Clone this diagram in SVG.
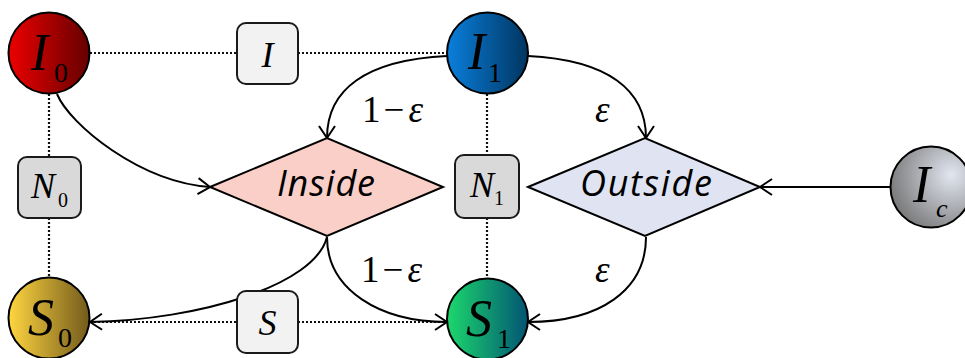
<svg xmlns="http://www.w3.org/2000/svg" width="965" height="358" viewBox="0 0 965 358">
<style>
.dot{stroke:#111;stroke-width:2.2;stroke-dasharray:2,2;fill:none}
.edge{stroke:#000;stroke-width:2;fill:none}
.circ{stroke:#000;stroke-width:2}
.box{stroke:#1a1a1a;stroke-width:2}
.math{font-family:"Liberation Serif","Times New Roman",serif;fill:#000}
.it{font-style:italic}
.hand{font-family:"Open Sans","DejaVu Sans",sans-serif;font-style:italic;fill:#000}
</style>
<defs>
<marker id="arr" markerUnits="userSpaceOnUse" markerWidth="30" markerHeight="30" refX="0" refY="0" viewBox="-15 -15 30 30" orient="auto" overflow="visible">
<path d="M-12,-8 L0,0 L-12,8" fill="none" stroke="#000" stroke-width="2"/>
</marker>
<linearGradient id="gI0" x1="0" y1="0" x2="1" y2="0"><stop offset="0" stop-color="#ec0000"/><stop offset="1" stop-color="#650000"/></linearGradient>
<linearGradient id="gI1" x1="0" y1="0" x2="1" y2="0"><stop offset="0" stop-color="#0a7fdc"/><stop offset="1" stop-color="#003560"/></linearGradient>
<linearGradient id="gS0" x1="0" y1="0" x2="1" y2="0"><stop offset="0" stop-color="#ffd640"/><stop offset="1" stop-color="#735a1c"/></linearGradient>
<linearGradient id="gS1" x1="0" y1="0" x2="1" y2="0"><stop offset="0" stop-color="#1cd86c"/><stop offset="1" stop-color="#035474"/></linearGradient>
<radialGradient id="gIc" cx="0.75" cy="0.35" r="0.8"><stop offset="0" stop-color="#e2e6f0"/><stop offset="1" stop-color="#777"/></radialGradient>
</defs>

<g id="connectors">
<line class="dot" x1="90" y1="53" x2="237" y2="53"/>
<line class="dot" x1="298" y1="53" x2="447" y2="53"/>
<line class="dot" x1="49" y1="94" x2="49" y2="157"/>
<line class="dot" x1="49" y1="218" x2="49" y2="278"/>
<line class="dot" x1="487" y1="94" x2="487" y2="155"/>
<line class="dot" x1="487" y1="218" x2="487" y2="278"/>
<line class="dot" x1="90" y1="322" x2="237" y2="322"/>
<line class="dot" x1="298" y1="322" x2="447" y2="322"/>
<path class="edge" d="M57,94 C70,125 140,182 210,187" marker-end="url(#arr)"/>
<path class="edge" d="M447,56 C365,60 327,90 327,138" marker-end="url(#arr)"/>
<path class="edge" d="M528,56 C608,60 646,90 646,138" marker-end="url(#arr)"/>
<path class="edge" d="M327,237 C327,290 380,322 447,322" marker-end="url(#arr)"/>
<path class="edge" d="M327,237 C315,285 200,320 90,322" marker-end="url(#arr)"/>
<path class="edge" d="M646,237 C646,290 600,322 528,322" marker-end="url(#arr)"/>
<line class="edge" x1="890" y1="187" x2="760" y2="187" marker-end="url(#arr)"/>
<text class="math" x="362" y="122" font-size="37">1<tspan dx="3">−</tspan><tspan class="it" dx="4">ε</tspan></text>
<text class="math it" x="595" y="122" font-size="37">ε</text>
<text class="math" x="361" y="282" font-size="37">1<tspan dx="3">−</tspan><tspan class="it" dx="4">ε</tspan></text>
<text class="math it" x="595" y="282" font-size="37">ε</text>
</g>

<g id="node-I0">
<circle class="circ" cx="49" cy="53" r="40.5" fill="url(#gI0)"/>
<text class="math it" x="31" y="70" font-size="52">I</text>
<text class="math" x="54" y="82" font-size="28">0</text>
</g>
<g id="node-I1">
<circle class="circ" cx="487.5" cy="53" r="40.5" fill="url(#gI1)"/>
<text class="math it" x="468" y="69" font-size="52">I</text>
<text class="math" x="488" y="82" font-size="28">1</text>
</g>
<g id="node-Ic">
<circle class="circ" cx="931" cy="187" r="40.5" fill="url(#gIc)"/>
<text class="math it" x="913" y="202" font-size="52">I</text>
<text class="math it" x="936" y="217" font-size="26">c</text>
</g>
<g id="node-S0">
<circle class="circ" cx="49" cy="318" r="40.5" fill="url(#gS0)"/>
<text class="math it" x="28" y="335" font-size="52">S</text>
<text class="math" x="58" y="347" font-size="28">0</text>
</g>
<g id="node-S1">
<circle class="circ" cx="487.5" cy="319" r="40.5" fill="url(#gS1)"/>
<text class="math it" x="466" y="336" font-size="52">S</text>
<text class="math" x="497" y="348" font-size="28">1</text>
</g>
<g id="node-Ibox">
<rect class="box" x="237" y="23" width="61" height="61" rx="9" fill="#f2f2f2"/>
<text class="math it" x="267.5" y="67" font-size="36" text-anchor="middle">I</text>
</g>
<g id="node-N0">
<rect class="box" x="18" y="157" width="63" height="61" rx="9" fill="#d9d9d9"/>
<text class="math it" x="31" y="198" font-size="36">N</text>
<text class="math" x="58" y="207" font-size="20">0</text>
</g>
<g id="node-N1">
<rect class="box" x="455" y="155" width="64" height="63" rx="9" fill="#d9d9d9"/>
<text class="math it" x="470" y="197" font-size="36">N</text>
<text class="math" x="494" y="205" font-size="20">1</text>
</g>
<g id="node-Sbox">
<rect class="box" x="237" y="291" width="61" height="62" rx="9" fill="#f2f2f2"/>
<text class="math it" x="267.5" y="335" font-size="36" text-anchor="middle">S</text>
</g>
<g id="node-Inside">
<polygon class="circ" points="210,187 327,138 443,187 327,236" fill="#f9cfc7"/>
<text class="hand" x="277" y="196" font-size="36" textLength="98" lengthAdjust="spacing">Inside</text>
</g>
<g id="node-Outside">
<polygon class="circ" points="528,187 645,138 760,187 645,236" fill="#dfe3f2"/>
<text class="hand" x="580" y="196" font-size="36" textLength="132" lengthAdjust="spacing">Outside</text>
</g>
</svg>
